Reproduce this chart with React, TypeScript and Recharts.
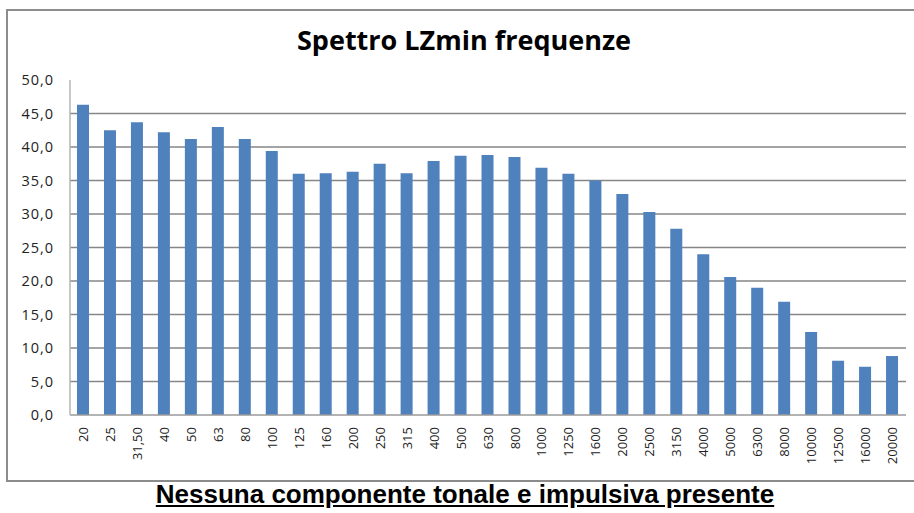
import React from "react";
import { BarChart, Bar, XAxis, YAxis, CartesianGrid } from "recharts";

const FREQUENCIES = [
  "20", "25", "31,50", "40", "50", "63", "80", "100", "125", "160", "200", "250", "315", "400", "500",
  "630", "800", "1000", "1250", "1600", "2000", "2500", "3150", "4000", "5000", "6300", "8000",
  "10000", "12500", "16000", "20000",
];

const LZMIN = [
  46.3, 42.5, 43.7, 42.2, 41.2, 43.0, 41.2, 39.4, 36.0, 36.1, 36.3, 37.5, 36.1, 37.9, 38.7,
  38.8, 38.5, 36.9, 36.0, 35.0, 33.0, 30.3, 27.8, 24.0, 20.6, 19.0, 16.9, 12.4, 8.1, 7.2, 8.8,
];

const Y_MAX = 50;
const Y_TICKS = [0, 5, 10, 15, 20, 25, 30, 35, 40, 45, 50];
const GRID_VALUES = [5, 10, 15, 20, 25, 30, 35, 40, 45];

const data = FREQUENCIES.map((f, i) => ({ freq: f, value: LZMIN[i] }));

const AXIS_FONT = "'Open Sans', 'DejaVu Sans', sans-serif";

function FreqTick({ x, y, payload }: { x?: number; y?: number; payload?: { value: string } }) {
  return (
    <text
      transform={`translate(${x},${(y ?? 0) + 10}) rotate(-90)`}
      textAnchor="end"
      dy="0.35em"
      fontSize={13}
      fontFamily={AXIS_FONT}
      fill="#222"
    >
      {payload?.value}
    </text>
  );
}

export default function App() {
  return (
    <div style={{ position: "absolute", left: 0, top: 0, width: 914, height: 513, background: "#fff" }}>
      {/* chart frame, right edge runs off the picture */}
      <div
        style={{
          position: "absolute",
          left: 6,
          top: 9,
          width: 920,
          height: 469,
          borderTop: "2px solid #8c8c8c",
          borderLeft: "2px solid #8c8c8c",
          borderBottom: "2px solid #8c8c8c",
        }}
      />
      <div
        style={{
          position: "absolute",
          left: 0,
          width: 928,
          top: 21,
          textAlign: "center",
          fontFamily: AXIS_FONT,
          fontWeight: 700,
          fontSize: 27,
          color: "#000",
        }}
      >
        Spettro LZmin frequenze
      </div>
      <div style={{ position: "absolute", left: 0, top: 0 }}>
        <BarChart
          width={914}
          height={480}
          data={data}
          margin={{ top: 80, right: 8, left: 8, bottom: 10 }}
          barSize={12}
        >
          <CartesianGrid
            vertical={false}
            stroke="#868686"
            strokeWidth={1.5}
            horizontalCoordinatesGenerator={({ offset }: any) =>
              GRID_VALUES.map((v) => offset.top + offset.height * (1 - v / Y_MAX))
            }
          />
          <XAxis
            dataKey="freq"
            interval={0}
            tickLine={false}
            tickSize={0}
            height={55}
            axisLine={{ stroke: "#9a9a9a", strokeWidth: 1.5 }}
            tick={<FreqTick />}
          />
          <YAxis
            domain={[0, Y_MAX]}
            ticks={Y_TICKS}
            width={62}
            tickLine={false}
            tickSize={0}
            tickMargin={16}
            axisLine={{ stroke: "#b5b5b5", strokeWidth: 1.5 }}
            tick={{ fontSize: 14.5, fontFamily: AXIS_FONT, fill: "#222", letterSpacing: 1 }}
            tickFormatter={(v: number) => v.toFixed(1).replace(".", ",")}
          />
          <Bar dataKey="value" fill="#4F81BD" isAnimationActive={false} />
        </BarChart>
      </div>
      <div
        style={{
          position: "absolute",
          left: 0,
          width: 930,
          top: 479,
          textAlign: "center",
          fontFamily: "'Liberation Sans', Arial, sans-serif",
          fontWeight: 700,
          fontSize: 26,
          textDecoration: "underline",
          color: "#000",
        }}
      >
        Nessuna componente tonale e impulsiva presente
      </div>
    </div>
  );
}
